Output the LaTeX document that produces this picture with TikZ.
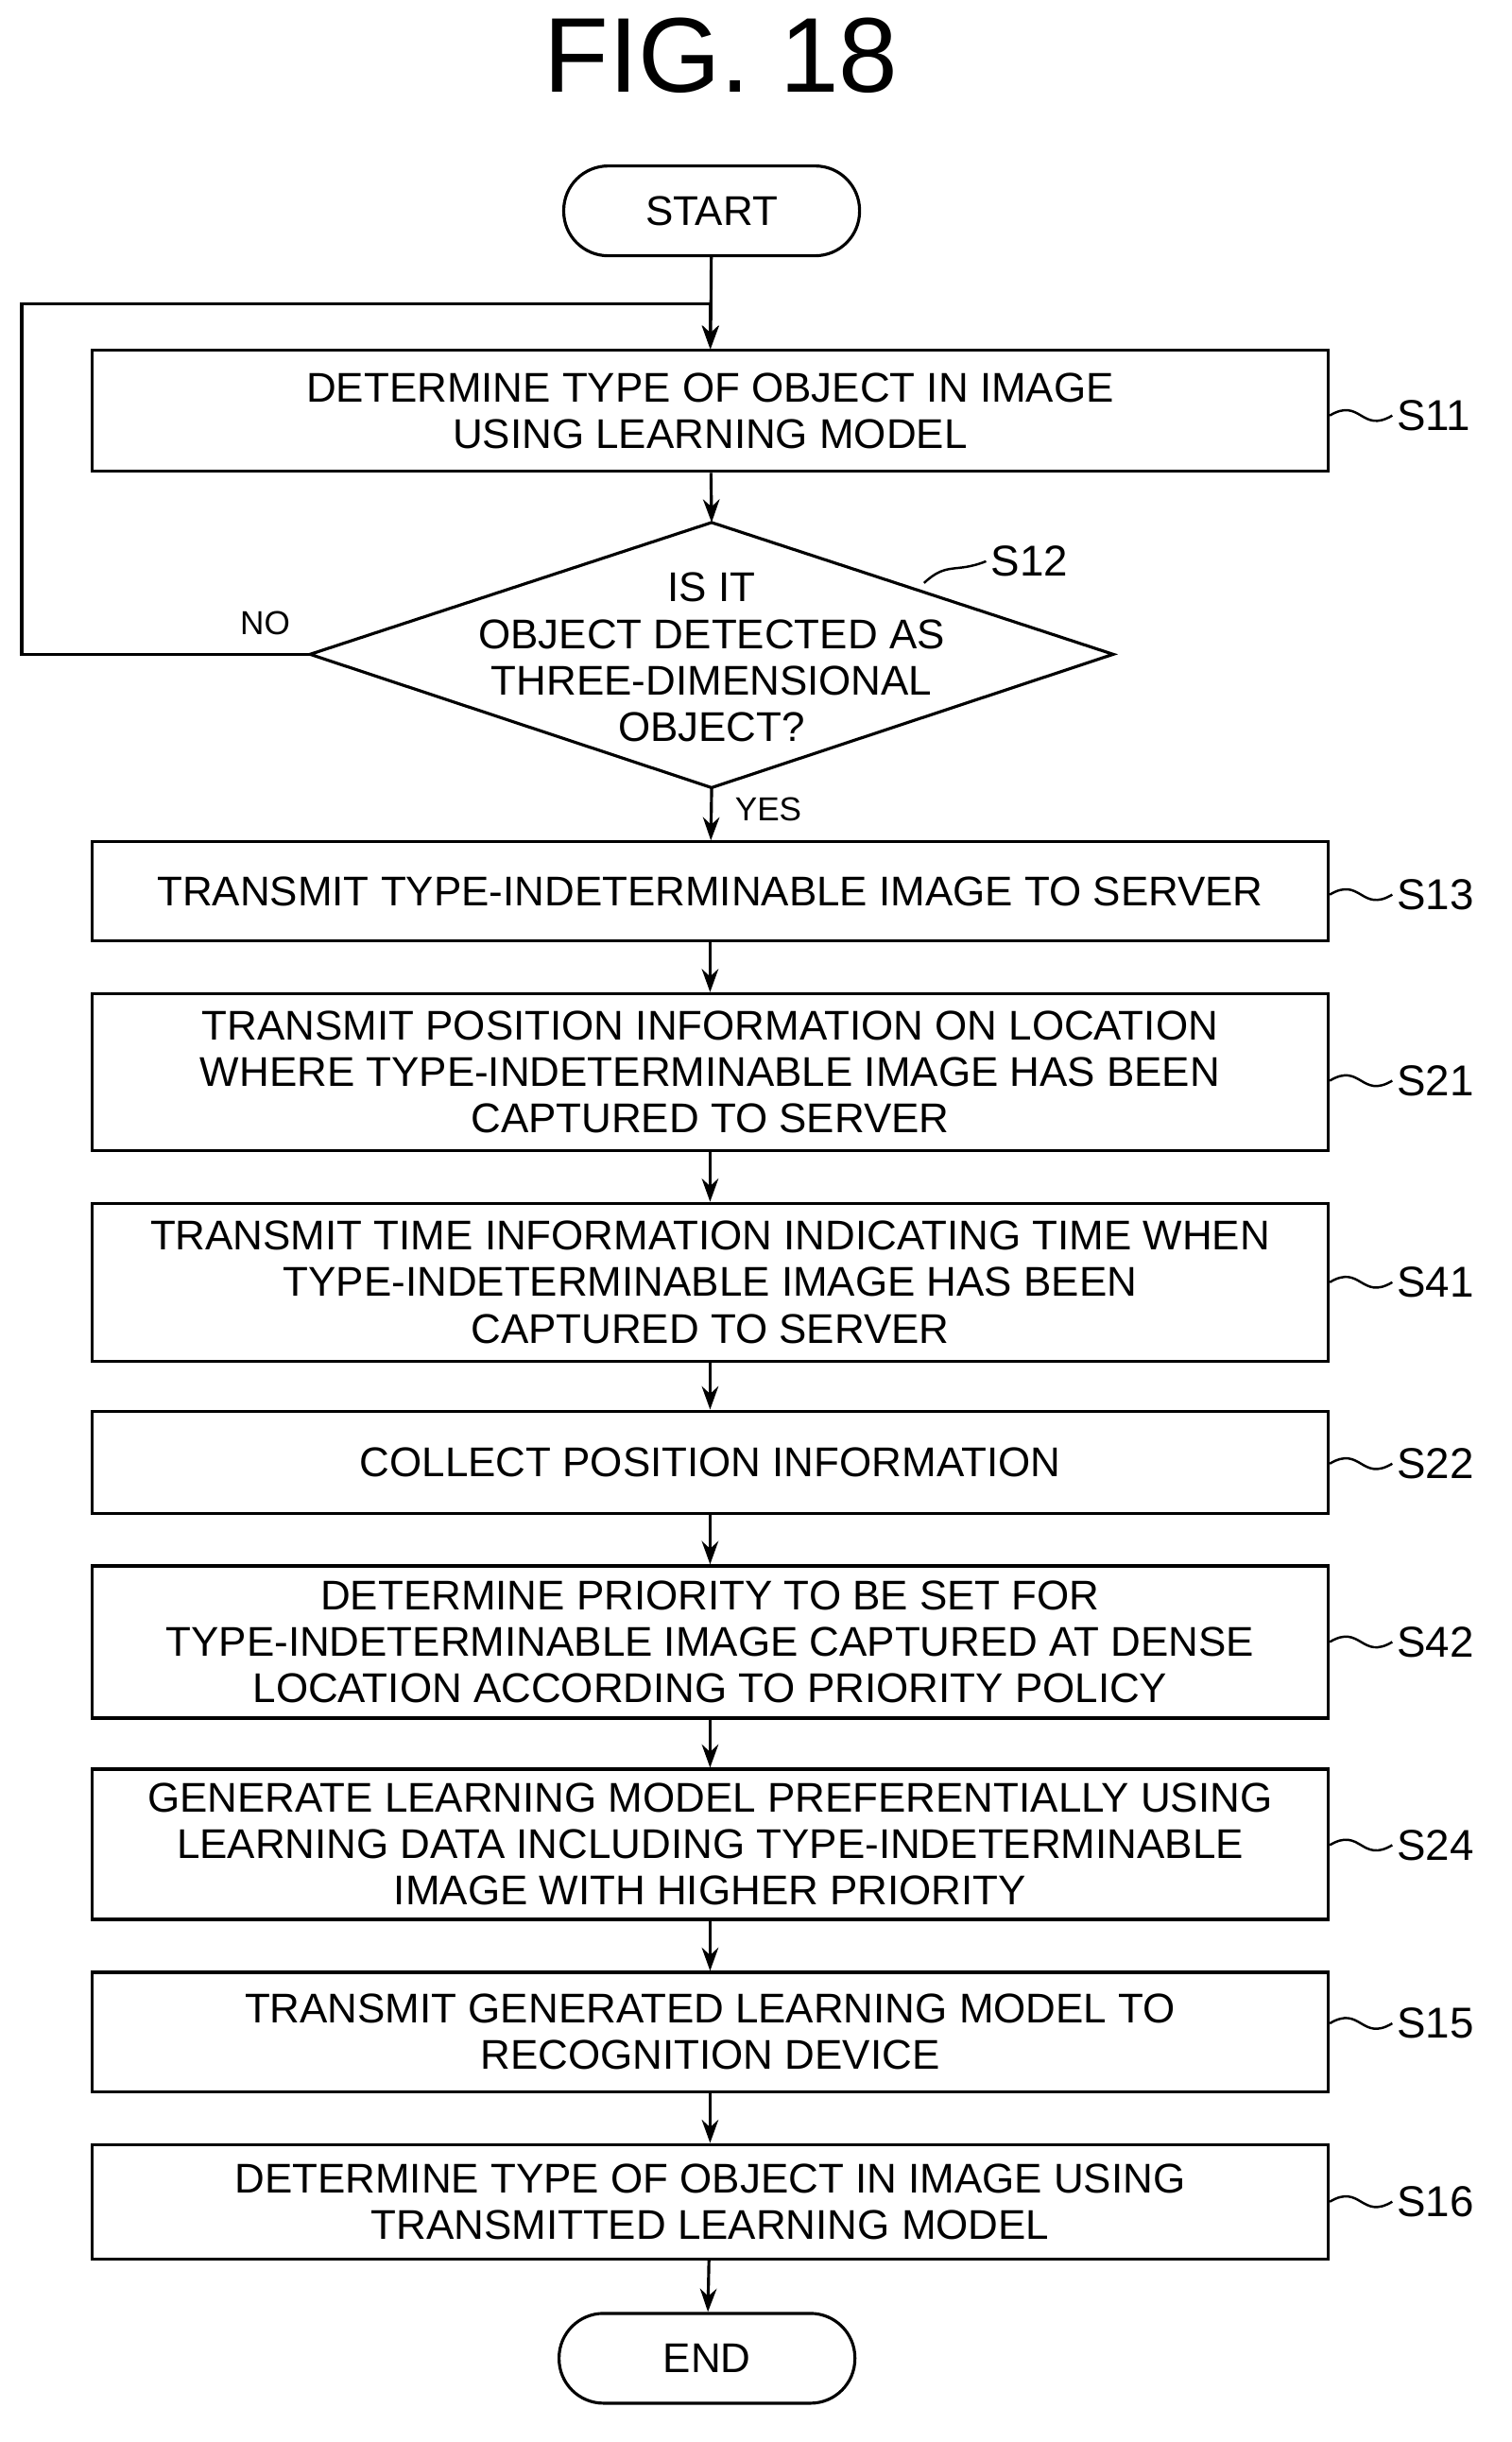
\documentclass[tikz,border=0pt]{standalone}
\usepackage{fontspec}
\setmainfont{Liberation Sans}
\usetikzlibrary{arrows.meta}
\tikzstyle{procStep} = [rectangle,
                        minimum width=13.08cm,
                        text centered,
                        align=center,
                        inner sep=0pt,
                        draw=black,
                        font=\fontsize{12.5}{14}\selectfont]
\tikzstyle{terminal} = [rectangle,
                        rounded corners=0.47cm,
                        minimum width=3.13cm,
                        minimum height=0.95cm,
                        draw=black,
                        font=\fontsize{12.5}{14}\selectfont]
\tikzstyle{tag}      = [anchor=west, inner sep=1pt,
                        font=\fontsize{13}{15}\selectfont]
\tikzstyle{arrow}    = [line width=0.9pt, -{Stealth[length=7pt,width=5pt]}]
\tikzstyle{lead}     = [line width=0.7pt]

\begin{document}
\begin{tikzpicture}[x=0.01641cm, y=-0.01641cm, line width=0.9pt]
        \useasboundingbox (0,0) rectangle (975,1575);
        \node [font=\fontsize{32}{36}\selectfont] (title) at (465,36) {FIG. 18};

        \node [terminal] (start) at (459,136) {START};

        \node [procStep, minimum height=1.28cm] (S11) at (458,265) {DETERMINE TYPE OF OBJECT IN IMAGE\\USING LEARNING MODEL};

        % decision
        \coordinate (dtop)   at (459,337);
        \coordinate (dbot)   at (459,508);
        \coordinate (dleft)  at (200,422);
        \coordinate (dright) at (718,422);
        \draw (dtop) -- (dright) -- (dbot) -- (dleft) -- cycle;
        \node [align=center, font=\fontsize{12.5}{14}\selectfont] (S12) at (459,424)
            {IS IT\\OBJECT DETECTED AS\\THREE-DIMENSIONAL\\OBJECT?};

        \node [procStep, minimum height=1.05cm] (S13) at (458,575) {TRANSMIT TYPE-INDETERMINABLE IMAGE TO SERVER};
        \node [procStep, minimum height=1.66cm] (S21) at (458,691.5) {TRANSMIT POSITION INFORMATION ON LOCATION\\WHERE TYPE-INDETERMINABLE IMAGE HAS BEEN\\CAPTURED TO SERVER};
        \node [procStep, minimum height=1.67cm] (S41) at (458,827) {TRANSMIT TIME INFORMATION INDICATING TIME WHEN\\TYPE-INDETERMINABLE IMAGE HAS BEEN\\CAPTURED TO SERVER};
        \node [procStep, minimum height=1.08cm] (S22) at (458,943) {COLLECT POSITION INFORMATION};
        \node [procStep, minimum height=1.61cm] (S42) at (458,1059) {DETERMINE PRIORITY TO BE SET FOR\\TYPE-INDETERMINABLE IMAGE CAPTURED AT DENSE\\LOCATION ACCORDING TO PRIORITY POLICY};
        \node [procStep, minimum height=1.59cm] (S24) at (458,1189.5) {GENERATE LEARNING MODEL PREFERENTIALLY USING\\LEARNING DATA INCLUDING TYPE-INDETERMINABLE\\IMAGE WITH HIGHER PRIORITY};
        \node [procStep, minimum height=1.26cm] (S15) at (458,1310.5) {TRANSMIT GENERATED LEARNING MODEL TO\\RECOGNITION DEVICE};
        \node [procStep, minimum height=1.21cm] (S16) at (458,1420) {DETERMINE TYPE OF OBJECT IN IMAGE USING\\TRANSMITTED LEARNING MODEL};

        \node [terminal] (end) at (456,1521) {END};

        % step labels
        \node [tag] (tS11) at (898,268)  {S11};
        \node [tag] (tS12) at (636,362)  {S12};
        \node [tag] (tS13) at (898,577)  {S13};
        \node [tag] (tS21) at (898,697)  {S21};
        \node [tag] (tS41) at (898,827)  {S41};
        \node [tag] (tS22) at (898,944)  {S22};
        \node [tag] (tS42) at (898,1059) {S42};
        \node [tag] (tS24) at (898,1190) {S24};
        \node [tag] (tS15) at (898,1305) {S15};
        \node [tag] (tS16) at (898,1420) {S16};

        \foreach \s in {S11,S13,S21,S41,S22,S42,S24,S15,S16}
            \draw [lead] (\s.east |- t\s.west) .. controls +(20,-12) and +(-20,12) .. (t\s.west);
        \coordinate (d12) at (596,376);
        \draw [lead] (d12) .. controls +(15,-14) and +(-20,8) .. (tS12.west);

        % connectors
        \draw [arrow] (start) -- (S11);
        \draw [arrow] (S11) -- (dtop);
        \draw [arrow] (dleft) -- (14,422) -- (14,196) -- (458,196) -- (S11.north);
        \node (no) at (171,402) {NO};
        \draw [arrow] (dbot) -- (S13);
        \node [anchor=west] (yes) at (466,522) {YES};
        \draw [arrow] (S13) -- (S21);
        \draw [arrow] (S21) -- (S41);
        \draw [arrow] (S41) -- (S22);
        \draw [arrow] (S22) -- (S42);
        \draw [arrow] (S42) -- (S24);
        \draw [arrow] (S24) -- (S15);
        \draw [arrow] (S15) -- (S16);
        \draw [arrow] (S16) -- (end);

    \end{tikzpicture}
\end{document}
